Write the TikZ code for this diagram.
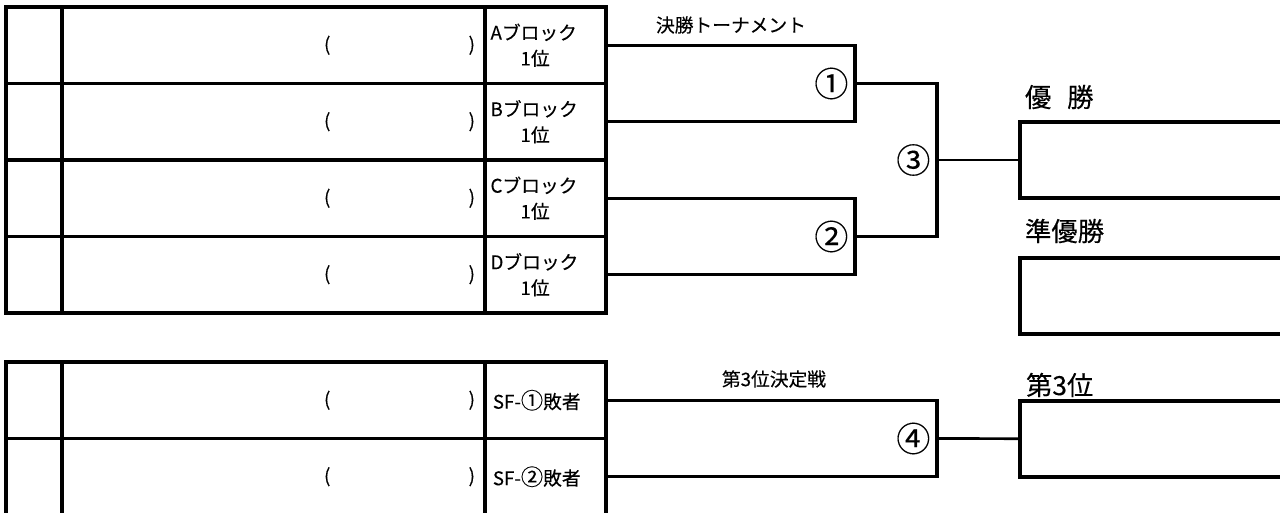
\documentclass[tikz,border=0pt]{standalone}
\usepackage{fontspec}
\setmainfont{Noto Sans CJK JP}[FakeBold=0.25]
\usetikzlibrary{positioning}

\begin{document}
\begin{tikzpicture}[x=0.03cm, y=-0.03cm,
                    every node/.append style = {inner sep=0pt, outer sep=0pt},
                    rule/.style = {line width=2.8pt},
                    link/.style = {line width=2.3pt},
                    nocell/.style = {draw, rule, minimum width=1.68cm, minimum height=2.295cm},
                    namecell/.style = {draw, rule, minimum width=12.69cm, minimum height=2.295cm, text width=12.09cm, align=right, font=\fontsize{16}{19}\selectfont},
                    seedcell/.style = {draw, rule, minimum width=3.63cm, minimum height=2.295cm, text width=3.3cm, align=left, font=\fontsize{16}{22}\selectfont},
                    resbox/.style = {draw, rule, minimum width=8.4cm, minimum height=2.28cm, anchor=west},
                    small/.style = {font=\fontsize{16}{19}\selectfont},
                    big/.style = {font=\fontsize{22.5}{27}\selectfont, anchor=west},
                    circ/.style = {font=\fontsize{29}{30}\selectfont}]
                \useasboundingbox (0,0) rectangle (1280,513);
                \clip (0,0) rectangle (1280,513);
                \foreach \blk [count=\i from 0] in {A,B,C,D} {
                    \node[nocell] (nno\blk) at (34,{45.25+76.5*\i}) {};
                    \node[namecell, right=0pt of nno\blk] (nname\blk) {(\hspace{4.15cm})};
                    \node[seedcell, right=0pt of nname\blk] (n\blk) {\blk ブロック\\\hspace*{0.9cm}1位};
                }
                \foreach \k/\c [count=\i from 0] in {1/①,2/②} {
                    \node[nocell] (nnoSF\k) at (34,{400.25+76.5*\i}) {};
                    \node[namecell, right=0pt of nnoSF\k] (nnameSF\k) {(\hspace{4.15cm})};
                    \node[seedcell, right=0pt of nnameSF\k] (nSF\k) {\hspace*{2pt}SF-{\fontsize{19}{22}\selectfont\c}敗者};
                }
                \coordinate (m1) at (855,83.5);
                \coordinate (m2) at (855,236.5);
                \coordinate (m3) at (937,160);
                \coordinate (m4) at (937,438.5);
                \draw[rule] (nA.east) -| (m1) |- (nB.east);
                \draw[rule] (nC.east) -| (m2) |- (nD.east);
                \draw[rule] (m1) -| (m3) |- (m2);
                \draw[rule] (nSF1.east) -| (m4) |- (nSF2.east);
                \node[circ, left=0.2cm of m1] (n1) {①};
                \node[circ, left=0.2cm of m2] (n2) {②};
                \node[circ, left=0.2cm of m3] (n3) {③};
                \node[circ, left=0.2cm of m4] (n4) {④};
                \node[resbox] (nwin) at (1020,160) {};
                \node[resbox] (nrun) at (1020,296) {};
                \node[resbox] (nthird) at (1020,439) {};
                \draw[link] (m3) -- (nwin);
                \draw[link] (m4) -- (nthird);
                \node[small] (nfinal) at (731,25) {決勝トーナメント};
                \node[small] (nplayoff) at (774,379) {第3位決定戦};
                \node[big] (nwinlbl) at (1025,97) {優\hspace{0.6em}勝};
                \node[big] (nrunlbl) at (1025,231) {準優勝};
                \node[big] (nthirdlbl) at (1026,385) {第3位};
\end{tikzpicture}
\end{document}
